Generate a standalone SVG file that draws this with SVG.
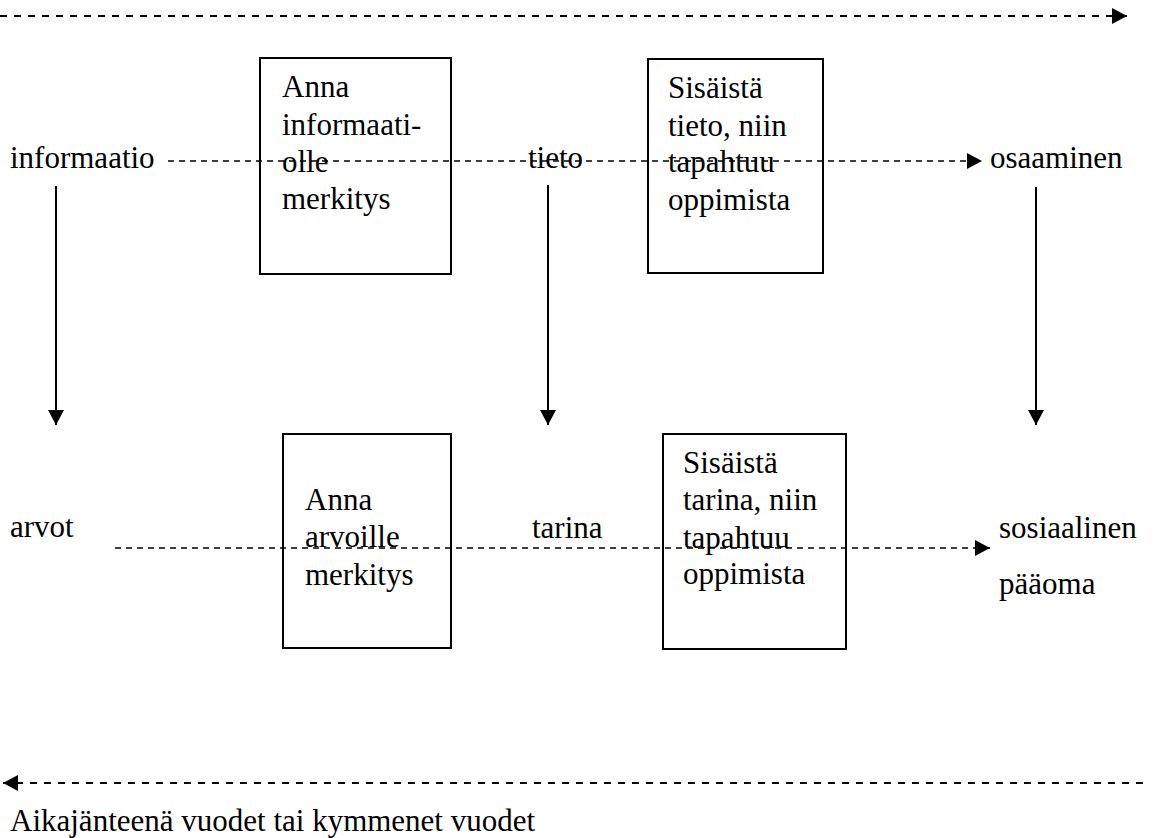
<svg xmlns="http://www.w3.org/2000/svg" width="1153" height="838" viewBox="0 0 1153 838" font-family="'Liberation Serif', 'DejaVu Serif', serif">
<style>
text{font-family:'Liberation Serif','DejaVu Serif',serif;font-size:31px;fill:#000}
.box{fill:none;stroke:#000;stroke-width:2}
.axis{fill:none;stroke:#000;stroke-width:2;stroke-dasharray:7 7}
.flow{fill:none;stroke:#000;stroke-width:1.5;stroke-dasharray:6 5}
.solid{fill:none;stroke:#000;stroke-width:2}
</style>
<defs>
<marker id="ah" viewBox="0 0 15 16" refX="15" refY="8" markerWidth="15" markerHeight="16" markerUnits="userSpaceOnUse" orient="auto">
<path d="M0,0 L15,8 L0,16 Z" fill="#000"/>
</marker>
</defs>
<rect width="1153" height="838" fill="#fff"/>
<g id="connectors">
<line class="axis" x1="0" y1="16" x2="1127" y2="16" marker-end="url(#ah)"/>
<line class="axis" x1="1143" y1="783" x2="3" y2="783" marker-end="url(#ah)"/>
<line class="flow" x1="168" y1="161" x2="982" y2="161" marker-end="url(#ah)"/>
<line class="flow" x1="115" y1="548" x2="990" y2="548" marker-end="url(#ah)"/>
<line class="solid" x1="56" y1="186" x2="56" y2="425" marker-end="url(#ah)"/>
<line class="solid" x1="548" y1="185" x2="548" y2="425" marker-end="url(#ah)"/>
<line class="solid" x1="1036" y1="187" x2="1036" y2="425" marker-end="url(#ah)"/>
</g>
<g id="informaatio"><text x="10" y="168">informaatio</text></g>
<g id="tieto"><text x="528" y="168">tieto</text></g>
<g id="osaaminen"><text x="990" y="168">osaaminen</text></g>
<g id="arvot"><text x="10" y="537">arvot</text></g>
<g id="tarina"><text x="532" y="538">tarina</text></g>
<g id="sosiaalinen"><text x="999" y="538">sosiaalinen</text><text x="999" y="594">pääoma</text></g>
<g id="box1">
<rect class="box" x="260" y="58" width="191" height="216"/>
<text x="282" y="97">Anna</text>
<text x="282" y="135">informaati-</text>
<text x="282" y="172">olle</text>
<text x="282" y="209">merkitys</text>
</g>
<g id="box2">
<rect class="box" x="648" y="59" width="175" height="214"/>
<text x="668" y="98">Sisäistä</text>
<text x="668" y="136">tieto, niin</text>
<text x="668" y="172">tapahtuu</text>
<text x="668" y="210">oppimista</text>
</g>
<g id="box3">
<rect class="box" x="283" y="434" width="168" height="214"/>
<text x="305" y="510">Anna</text>
<text x="305" y="547">arvoille</text>
<text x="305" y="585">merkitys</text>
</g>
<g id="box4">
<rect class="box" x="663" y="434" width="183" height="215"/>
<text x="683" y="473">Sisäistä</text>
<text x="683" y="510">tarina, niin</text>
<text x="683" y="548">tapahtuu</text>
<text x="683" y="584">oppimista</text>
</g>
<g id="timespan"><text x="10" y="831">Aikajänteenä vuodet tai kymmenet vuodet</text></g>
</svg>
